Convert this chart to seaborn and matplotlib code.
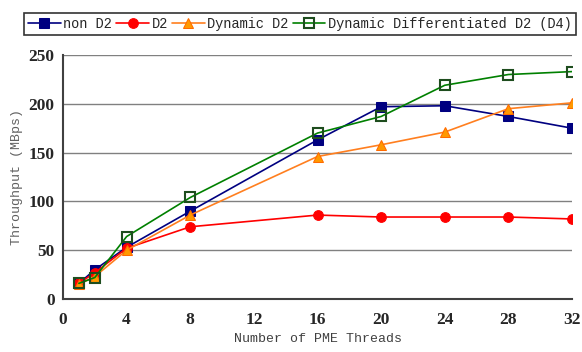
import matplotlib
matplotlib.use("Agg")
import matplotlib.pyplot as plt
import seaborn as sns
import pandas as pd

threads = [1, 2, 4, 8, 16, 20, 24, 28, 32]
non_d2 = [16, 30, 53, 90, 163, 197, 198, 187, 175]
d2 = [16, 27, 52, 74, 86, 84, 84, 84, 82]
dyn_d2 = [15, 23, 50, 86, 146, 158, 171, 195, 201]
dyn_diff_d4 = [16, 22, 64, 104, 170, 187, 219, 230, 233]
labels = ["non D2", "D2", "Dynamic D2", "Dynamic Differentiated D2 (D4)"]
x_ticks = [0, 4, 8, 12, 16, 20, 24, 28, 32]
y_ticks = [0, 50, 100, 150, 200, 250]

sns.set_style("white")
plt.rcParams['font.family'] = ['Liberation Mono', 'DejaVu Sans Mono']

fig = plt.figure(figsize=(5.82, 3.52), dpi=100)
ax = fig.add_axes([63/582, 1-299/352, (572-63)/582, (299-55)/352])

series = [non_d2, d2, dyn_d2, dyn_diff_d4]
styles = [
    dict(color="#000080", marker="s", markersize=8.5, markerfacecolor="#000080", markeredgecolor="#000080"),
    dict(color="#FF0000", marker="o", markersize=8.5, markerfacecolor="#FF0000", markeredgecolor="#FF0000"),
    dict(color="#FF7F1F", marker="^", markersize=9.5, markerfacecolor="#FF9900", markeredgecolor="#FF6A00"),
    dict(color="#008000", marker="s", markersize=8.5, markerfacecolor="none", markeredgecolor="#1E4D1E", markeredgewidth=1.5),
]
for vals, lab, st in zip(series, labels, styles):
    sns.lineplot(x=threads, y=vals, ax=ax, label=lab, linewidth=1.2, **st)

ax.set_xlim(0, 32)
ax.set_ylim(0, 250)
ax.set_xticks(x_ticks)
ax.set_yticks(y_ticks)
ax.yaxis.grid(True, color="#808080", linewidth=1.0)
ax.xaxis.grid(False)
for s in ["top", "right"]:
    ax.spines[s].set_visible(False)
for s in ["left", "bottom"]:
    ax.spines[s].set_color("#404040")
    ax.spines[s].set_linewidth(1.5)
ax.tick_params(axis="y", length=0, pad=6)
ax.tick_params(axis="x", direction="in", length=4, width=1.2, color="#404040", pad=9)
for t in ax.get_xticklabels() + ax.get_yticklabels():
    t.set_family(["Liberation Serif"])
    t.set_fontweight("bold")
    t.set_fontsize(12.5)
ax.set_xlabel("Number of PME Threads", fontsize=9.5, color="#404040", labelpad=4)
ax.set_ylabel("Throughput (MBps)", fontsize=9.5, color="#606060", labelpad=4)
ax.legend_.remove()
h, l = ax.get_legend_handles_labels()
for hh in h:
    hh.set_markersize(7)
leg = fig.legend(h, l, loc="upper center", bbox_to_anchor=(300/582, 1-6/352), ncol=4,
                 frameon=True, fancybox=False, fontsize=9.8, handlelength=2.4,
                 handletextpad=0.2, columnspacing=0.3, borderpad=0.3, edgecolor="black")
leg.get_frame().set_linewidth(1.2)
fig.savefig("out.png", dpi=100)
